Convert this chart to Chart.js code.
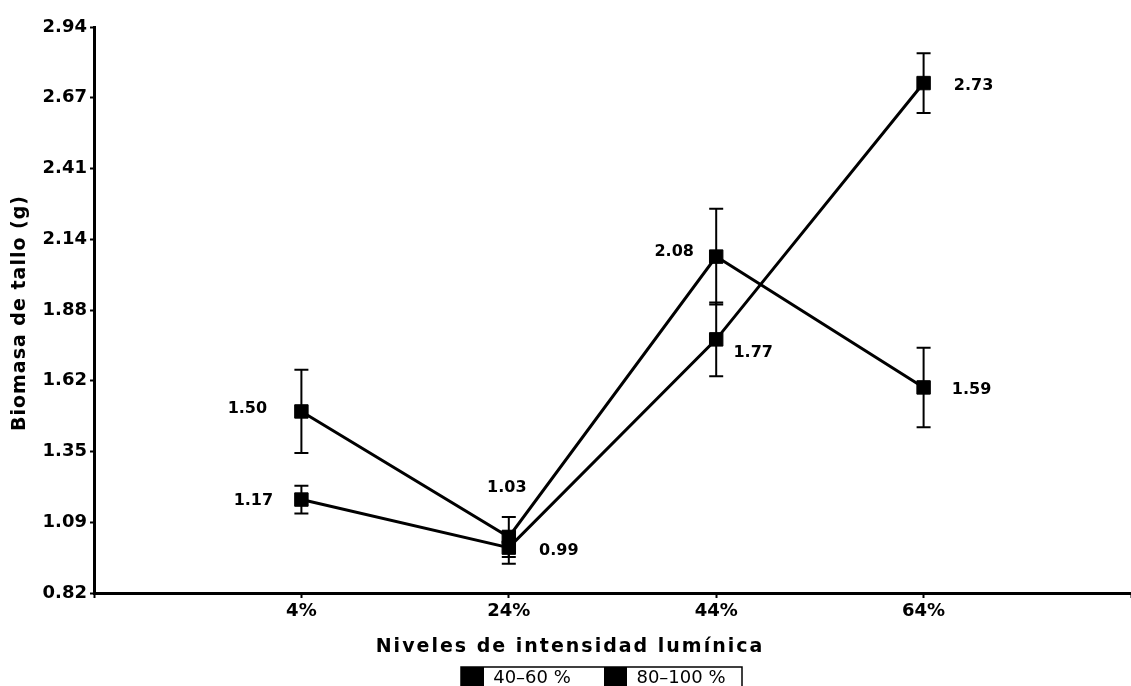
<!DOCTYPE html>
<html>
<head>
<meta charset="utf-8">
<script src="https://cdn.jsdelivr.net/npm/chart.js"></script>
<style>
  html, body { margin: 0; padding: 0; background: #fff; overflow: hidden; }
  canvas { display: block; }
</style>
</head>
<body>
<canvas id="chart" width="1131" height="686"></canvas>
<script>
// Data
const categories = ["4%", "24%", "44%", "64%"];
const seriesNames = ["40–60 %", "80–100 %"];
const valuesA = [1.50, 1.03, 2.08, 1.59];
const valuesB = [1.17, 0.99, 1.77, 2.73];
const errorsA = [0.156, 0.075, 0.179, 0.149];
const errorsB = [0.052, 0.06, 0.138, 0.112];
const yTickLabels = ["0.82", "1.09", "1.35", "1.62", "1.88", "2.14", "2.41", "2.67", "2.94"];
const xTitle = "Niveles de intensidad lumínica";
const yTitle = "Biomasa de tallo (g)";

// where each value label sits relative to its marker (px)
const labelOffsets = [
    [[-54, -3], [-2, -49], [-42, -5], [48, 2]],
    [[-48, 1], [50, 3], [37, 13], [50, 3]]
];

const FONT = "'DejaVu Sans', Arial, sans-serif";
const yMin = parseFloat(yTickLabels[0]);
const yMax = parseFloat(yTickLabels[yTickLabels.length - 1]);
const yStep = (yMax - yMin) / (yTickLabels.length - 1);

const errorBars = {
    id: "errorBars",
    beforeDatasetsDraw(chart) {
        const ctx = chart.ctx;
        const xs = chart.scales.x, ys = chart.scales.y;
        const errs = [errorsA, errorsB];
        ctx.save();
        ctx.strokeStyle = "#000";
        ctx.lineWidth = 2;
        chart.data.datasets.forEach((ds, d) => {
            ds.data.forEach((p, i) => {
                const x = xs.getPixelForValue(p.x);
                const top = ys.getPixelForValue(p.y + errs[d][i]);
                const bot = ys.getPixelForValue(p.y - errs[d][i]);
                ctx.beginPath();
                ctx.moveTo(x, top); ctx.lineTo(x, bot);
                ctx.moveTo(x - 7, top); ctx.lineTo(x + 7, top);
                ctx.moveTo(x - 7, bot); ctx.lineTo(x + 7, bot);
                ctx.stroke();
            });
        });
        ctx.restore();
    }
};

const valueLabels = {
    id: "valueLabels",
    afterDatasetsDraw(chart) {
        const ctx = chart.ctx;
        ctx.save();
        ctx.fillStyle = "#000";
        ctx.font = "bold 16px " + FONT;
        ctx.textAlign = "center";
        ctx.textBaseline = "middle";
        chart.data.datasets.forEach((ds, d) => {
            chart.getDatasetMeta(d).data.forEach((pt, i) => {
                const off = labelOffsets[d][i];
                ctx.fillText(ds.data[i].y.toFixed(2), pt.x + off[0], pt.y + off[1]);
            });
        });
        ctx.restore();
    }
};

// axis titles, drawn wide like the scanned figure
const axisTitles = {
    id: "axisTitles",
    afterDraw(chart) {
        const ctx = chart.ctx;
        ctx.save();
        ctx.fillStyle = "#000";
        ctx.textAlign = "center";
        ctx.textBaseline = "middle";
        ctx.letterSpacing = "2px";
        ctx.font = "bold 19px " + FONT;
        ctx.fillText(xTitle, 570, 647);
        ctx.letterSpacing = "1px";
        ctx.font = "bold 19px " + FONT;
        ctx.translate(20, 313);
        ctx.rotate(-Math.PI / 2);
        ctx.fillText(yTitle, 0, 0);
        ctx.restore();
    }
};

// boxed legend under the axis title
const boxLegend = {
    id: "boxLegend",
    afterDraw(chart) {
        const ctx = chart.ctx;
        const left = 461, right = 742, top = 667, bottom = 692;
        ctx.save();
        ctx.strokeStyle = "#000";
        ctx.lineWidth = 1.5;
        ctx.strokeRect(left, top, right - left, bottom - top);
        ctx.font = "18px " + FONT;
        ctx.textAlign = "center";
        ctx.textBaseline = "middle";
        const swatchX = [left, 604];
        const textX = [532, 681];
        chart.data.datasets.forEach((ds, d) => {
            ctx.fillStyle = ds.backgroundColor;
            ctx.fillRect(swatchX[d], top, 23, bottom - top);
            ctx.fillStyle = "#000";
            ctx.fillText(ds.label, textX[d], 678);
        });
        ctx.restore();
    }
};

const toPoints = vals => vals.map((v, i) => ({ x: i + 1, y: v }));

new Chart(document.getElementById("chart"), {
    type: "line",
    data: {
        datasets: [
            {
                label: seriesNames[0],
                data: toPoints(valuesA),
                borderColor: "#000",
                backgroundColor: "#000",
                borderWidth: 3,
                pointStyle: "rect",
                pointRadius: 9.5,
                pointBorderWidth: 1,
                tension: 0
            },
            {
                label: seriesNames[1],
                data: toPoints(valuesB),
                borderColor: "#000",
                backgroundColor: "#000",
                borderWidth: 3,
                pointStyle: "rect",
                pointRadius: 9.5,
                pointBorderWidth: 1,
                tension: 0
            }
        ]
    },
    options: {
        responsive: false,
        animation: false,
        devicePixelRatio: 1,
        layout: { autoPadding: false, padding: { top: 27, right: 0, bottom: 0, left: 0 } },
        plugins: {
            legend: { display: false },
            tooltip: { enabled: false }
        },
        scales: {
            x: {
                type: "linear",
                min: 0,
                max: categories.length + 1,
                afterFit(scale) {
                    scale.height = 93;
                    scale.paddingRight = 0;
                    scale.paddingLeft = 0;
                },
                border: { color: "#000", width: 3 },
                grid: {
                    drawOnChartArea: false,
                    drawTicks: true,
                    tickLength: 5,
                    tickWidth: 2,
                    color: "#000"
                },
                ticks: {
                    stepSize: 1,
                    autoSkip: false,
                    maxRotation: 0,
                    color: "#000",
                    padding: 3,
                    font: { family: FONT, size: 18, weight: "bold" },
                    callback: v => categories[v - 1] || ""
                }
            },
            y: {
                min: yMin,
                max: yMax,
                afterFit(scale) { scale.width = 94; },
                border: { color: "#000", width: 3 },
                grid: {
                    drawOnChartArea: false,
                    drawTicks: true,
                    tickLength: 4,
                    tickWidth: 2,
                    color: "#000"
                },
                ticks: {
                    stepSize: yStep,
                    autoSkip: false,
                    color: "#000",
                    padding: 3,
                    font: { family: FONT, size: 18, weight: "bold" },
                    callback: (v, i) => yTickLabels[i]
                }
            }
        }
    },
    plugins: [errorBars, valueLabels, axisTitles, boxLegend]
});
</script>
</body>
</html>
